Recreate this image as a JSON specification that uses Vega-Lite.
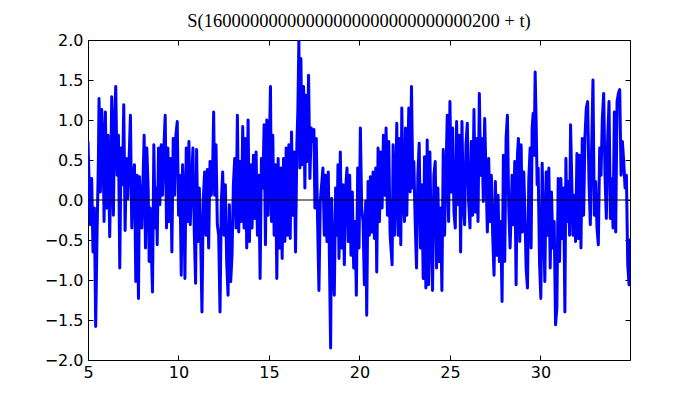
{
  "$schema": "https://vega.github.io/schema/vega-lite/v6.json",
  "width": 542,
  "height": 320,
  "autosize": {"type": "none"},
  "padding": {"left": 88, "top": 40, "right": 70, "bottom": 40},
  "background": "white",
  "title": {"text": "S(16000000000000000000000000000200 + t)", "font": "Liberation Serif", "fontSize": 18.5, "fontWeight": "normal", "color": "black", "baseline": "alphabetic", "offset": -13, "anchor": "middle"},
  "config": {
    "view": {"stroke": "black", "strokeWidth": 1},
    "axis": {"grid": false, "domain": false, "ticks": true, "tickColor": "black", "tickSize": -5, "tickWidth": 1, "labelFont": "DejaVu Sans", "labelFontSize": 16, "labelColor": "black", "labelFlush": false, "labelOverlap": false, "labelBound": false, "title": null}
  },
  "data": {"values": [
{"t":5.0,"s":0.73},{"t":5.129,"s":-0.31},{"t":5.203,"s":0.27},{"t":5.277,"s":-0.65},{"t":5.351,"s":-0.1},{"t":5.425,"s":-1.58},{"t":5.499,"s":-0.44},{"t":5.573,"s":0.48},{"t":5.61,"s":1.27},{"t":5.683,"s":0.1},{"t":5.757,"s":1.13},{"t":5.831,"s":0.69},{"t":5.887,"s":-0.27},{"t":5.961,"s":1.1},{"t":6.034,"s":-0.1},{"t":6.108,"s":0.81},{"t":6.2,"s":-0.46},{"t":6.256,"s":0.31},{"t":6.311,"s":1.29},{"t":6.404,"s":-0.19},{"t":6.459,"s":0.9},{"t":6.533,"s":1.42},{"t":6.607,"s":0.31},{"t":6.681,"s":0.81},{"t":6.755,"s":-0.85},{"t":6.828,"s":0.65},{"t":6.902,"s":0.19},{"t":6.976,"s":1.19},{"t":7.05,"s":-0.38},{"t":7.124,"s":0.52},{"t":7.198,"s":0.02},{"t":7.272,"s":0.52},{"t":7.345,"s":1.06},{"t":7.419,"s":-0.35},{"t":7.493,"s":0.31},{"t":7.567,"s":0.44},{"t":7.641,"s":-1.02},{"t":7.715,"s":0.31},{"t":7.789,"s":-1.23},{"t":7.844,"s":0.29},{"t":7.918,"s":-0.1},{"t":7.973,"s":-0.35},{"t":8.047,"s":0.31},{"t":8.103,"s":0.81},{"t":8.176,"s":-0.6},{"t":8.25,"s":0.65},{"t":8.324,"s":0.15},{"t":8.38,"s":-0.77},{"t":8.435,"s":-0.1},
{"t":8.564,"s":-1.15},{"t":8.638,"s":0.69},{"t":8.712,"s":-0.35},{"t":8.786,"s":0.15},{"t":8.823,"s":-0.56},{"t":8.897,"s":0.65},{"t":8.971,"s":-0.06},{"t":9.044,"s":0.69},{"t":9.118,"s":0.06},{"t":9.192,"s":0.65},{"t":9.266,"s":1.06},{"t":9.34,"s":-0.35},{"t":9.414,"s":0.65},{"t":9.488,"s":-0.27},{"t":9.561,"s":0.52},{"t":9.635,"s":-0.65},{"t":9.709,"s":0.77},{"t":9.783,"s":0.06},{"t":9.857,"s":0.81},{"t":9.931,"s":0.98},{"t":10.005,"s":-0.19},{"t":10.079,"s":0.31},{"t":10.152,"s":-0.94},{"t":10.226,"s":0.44},{"t":10.3,"s":-0.02},{"t":10.356,"s":-0.98},{"t":10.429,"s":0.65},{"t":10.503,"s":-0.27},{"t":10.577,"s":0.73},{"t":10.651,"s":-0.31},{"t":10.725,"s":0.23},{"t":10.799,"s":0.65},{"t":10.873,"s":-0.4},{"t":10.946,"s":-1.04},{"t":11.002,"s":0.63},{"t":11.076,"s":-0.52},{"t":11.15,"s":0.15},{"t":11.224,"s":-0.44},{"t":11.297,"s":-1.4},{"t":11.371,"s":0.02},{"t":11.445,"s":0.35},{"t":11.519,"s":-0.44},{"t":11.593,"s":0.38},{"t":11.667,"s":-0.6},{"t":11.741,"s":0.48},
{"t":11.814,"s":0.06},{"t":11.888,"s":0.4},{"t":11.944,"s":1.1},{"t":11.999,"s":0.06},{"t":12.073,"s":0.69},{"t":12.147,"s":-0.31},{"t":12.221,"s":-0.44},{"t":12.295,"s":-1.4},{"t":12.368,"s":-0.02},{"t":12.442,"s":0.35},{"t":12.516,"s":-0.44},{"t":12.59,"s":0.19},{"t":12.664,"s":-0.77},{"t":12.738,"s":-1.19},{"t":12.812,"s":-0.06},{"t":12.885,"s":-1.02},{"t":12.959,"s":-0.69},{"t":13.033,"s":0.19},{"t":13.107,"s":0.52},{"t":13.181,"s":-0.35},{"t":13.255,"s":1.06},{"t":13.329,"s":-0.4},{"t":13.403,"s":0.48},{"t":13.476,"s":-0.27},{"t":13.55,"s":0.92},{"t":13.624,"s":-0.35},{"t":13.698,"s":0.77},{"t":13.772,"s":-0.6},{"t":13.846,"s":1.0},{"t":13.92,"s":-0.52},{"t":13.993,"s":0.44},{"t":14.067,"s":-0.35},{"t":14.141,"s":0.56},{"t":14.215,"s":-0.23},{"t":14.289,"s":0.6},{"t":14.363,"s":-0.44},{"t":14.437,"s":0.31},{"t":14.51,"s":-0.98},{"t":14.584,"s":0.52},{"t":14.658,"s":0.15},{"t":14.732,"s":0.94},{"t":14.806,"s":-0.56},{"t":14.88,"s":1.0},{"t":14.954,"s":-0.19},
{"t":15.083,"s":1.42},{"t":15.138,"s":-0.27},{"t":15.212,"s":0.81},{"t":15.286,"s":-0.44},{"t":15.36,"s":0.44},{"t":15.434,"s":-0.98},{"t":15.508,"s":0.52},{"t":15.582,"s":-0.6},{"t":15.655,"s":0.4},{"t":15.729,"s":-0.73},{"t":15.803,"s":0.52},{"t":15.877,"s":-0.52},{"t":15.951,"s":0.65},{"t":16.025,"s":-0.44},{"t":16.099,"s":0.69},{"t":16.173,"s":-0.48},{"t":16.246,"s":0.85},{"t":16.32,"s":-0.19},{"t":16.394,"s":0.6},{"t":16.468,"s":-0.65},{"t":16.542,"s":0.69},{"t":16.597,"s":1.13},{"t":16.653,"s":1.99},{"t":16.708,"s":0.4},{"t":16.764,"s":1.77},{"t":16.837,"s":0.44},{"t":16.911,"s":1.42},{"t":16.985,"s":0.15},{"t":17.04,"s":1.31},{"t":17.114,"s":0.48},{"t":17.188,"s":1.56},{"t":17.262,"s":0.27},{"t":17.336,"s":0.9},{"t":17.41,"s":0.73},{"t":17.484,"s":0.88},{"t":17.539,"s":-0.1},{"t":17.613,"s":0.77},{"t":17.687,"s":-0.27},{"t":17.761,"s":-1.13},{"t":17.835,"s":-0.02},{"t":17.908,"s":0.19},{"t":17.982,"s":0.4},{"t":18.056,"s":-0.44},{"t":18.13,"s":0.31},{"t":18.204,"s":-0.52},{"t":18.278,"s":0.35},
{"t":18.407,"s":-1.85},{"t":18.462,"s":0.02},{"t":18.536,"s":-0.81},{"t":18.61,"s":-1.19},{"t":18.684,"s":0.15},{"t":18.758,"s":-0.44},{"t":18.813,"s":0.44},{"t":18.869,"s":-0.73},{"t":18.943,"s":0.6},{"t":19.016,"s":-0.6},{"t":19.09,"s":0.19},{"t":19.164,"s":-0.81},{"t":19.238,"s":0.15},{"t":19.312,"s":0.4},{"t":19.386,"s":-0.52},{"t":19.46,"s":0.31},{"t":19.533,"s":-0.69},{"t":19.607,"s":0.1},{"t":19.681,"s":-0.85},{"t":19.755,"s":-0.27},{"t":19.829,"s":-1.19},{"t":19.903,"s":0.4},{"t":19.977,"s":-0.6},{"t":20.051,"s":0.9},{"t":20.124,"s":-0.1},{"t":20.198,"s":-0.27},{"t":20.272,"s":-1.06},{"t":20.346,"s":-0.02},{"t":20.401,"s":-1.44},{"t":20.475,"s":0.23},{"t":20.549,"s":-0.44},{"t":20.605,"s":0.29},{"t":20.678,"s":-0.4},{"t":20.752,"s":0.35},{"t":20.826,"s":-0.48},{"t":20.9,"s":0.4},{"t":20.955,"s":-0.9},{"t":21.029,"s":0.65},{"t":21.103,"s":-0.27},{"t":21.177,"s":0.6},{"t":21.251,"s":-0.1},{"t":21.325,"s":0.81},{"t":21.399,"s":0.06},{"t":21.472,"s":0.9},{"t":21.546,"s":-0.19},{"t":21.62,"s":0.73},{"t":21.694,"s":-0.44},
{"t":21.805,"s":-0.81},{"t":21.86,"s":0.69},{"t":21.934,"s":-0.44},{"t":22.008,"s":0.19},{"t":22.063,"s":0.96},{"t":22.137,"s":-0.44},{"t":22.211,"s":0.77},{"t":22.285,"s":-0.56},{"t":22.34,"s":1.15},{"t":22.414,"s":0.06},{"t":22.488,"s":-0.27},{"t":22.544,"s":0.9},{"t":22.617,"s":-0.19},{"t":22.673,"s":0.56},{"t":22.728,"s":1.15},{"t":22.802,"s":0.1},{"t":22.876,"s":1.42},{"t":22.95,"s":0.15},{"t":23.005,"s":0.48},{"t":23.079,"s":-0.27},{"t":23.153,"s":-0.85},{"t":23.227,"s":0.31},{"t":23.301,"s":0.71},{"t":23.375,"s":-0.6},{"t":23.448,"s":0.19},{"t":23.522,"s":-0.98},{"t":23.596,"s":0.54},{"t":23.67,"s":-1.1},{"t":23.744,"s":0.75},{"t":23.818,"s":-1.06},{"t":23.892,"s":0.6},{"t":23.965,"s":-0.44},{"t":24.039,"s":-1.13},{"t":24.113,"s":0.31},{"t":24.187,"s":0.48},{"t":24.261,"s":-0.85},{"t":24.335,"s":0.15},{"t":24.409,"s":-0.77},{"t":24.482,"s":-0.1},{"t":24.556,"s":-1.13},{"t":24.63,"s":0.63},{"t":24.704,"s":-0.44},{"t":24.778,"s":0.31},{"t":24.852,"s":1.06},{"t":24.926,"s":-0.27},{"t":25.0,"s":1.23},
{"t":25.073,"s":0.1},{"t":25.147,"s":0.9},{"t":25.221,"s":-0.15},{"t":25.295,"s":-0.35},{"t":25.369,"s":0.98},{"t":25.443,"s":-0.06},{"t":25.517,"s":0.81},{"t":25.591,"s":-0.65},{"t":25.664,"s":0.98},{"t":25.738,"s":-0.02},{"t":25.812,"s":-0.31},{"t":25.886,"s":0.69},{"t":25.96,"s":0.96},{"t":26.034,"s":-0.02},{"t":26.108,"s":-0.35},{"t":26.181,"s":0.73},{"t":26.255,"s":-0.19},{"t":26.329,"s":1.13},{"t":26.403,"s":-0.15},{"t":26.477,"s":0.77},{"t":26.551,"s":-0.27},{"t":26.625,"s":1.33},{"t":26.699,"s":0.31},{"t":26.772,"s":0.77},{"t":26.846,"s":-0.02},{"t":26.92,"s":1.02},{"t":26.994,"s":0.31},{"t":27.068,"s":-0.4},{"t":27.142,"s":0.52},{"t":27.216,"s":-0.27},{"t":27.289,"s":0.31},{"t":27.363,"s":-0.44},{"t":27.437,"s":-0.94},{"t":27.511,"s":0.23},{"t":27.585,"s":-0.69},{"t":27.659,"s":0.06},{"t":27.733,"s":-0.77},{"t":27.807,"s":-0.27},{"t":27.88,"s":-1.27},{"t":27.954,"s":0.56},{"t":28.028,"s":-0.77},{"t":28.102,"s":0.77},{"t":28.176,"s":1.06},{"t":28.25,"s":-0.1},{"t":28.324,"s":-0.6},
{"t":28.379,"s":-0.19},{"t":28.434,"s":0.31},{"t":28.508,"s":-0.31},{"t":28.582,"s":0.48},{"t":28.656,"s":-1.06},{"t":28.73,"s":0.56},{"t":28.785,"s":0.77},{"t":28.859,"s":-0.52},{"t":28.933,"s":0.69},{"t":29.007,"s":-0.4},{"t":29.081,"s":0.35},{"t":29.155,"s":-0.27},{"t":29.21,"s":-0.85},{"t":29.284,"s":-1.1},{"t":29.358,"s":0.27},{"t":29.432,"s":0.65},{"t":29.487,"s":-0.6},{"t":29.542,"s":0.9},{"t":29.598,"s":1.08},{"t":29.653,"s":0.56},{"t":29.709,"s":1.6},{"t":29.764,"s":0.98},{"t":29.819,"s":0.19},{"t":29.875,"s":0.4},{"t":29.949,"s":-0.77},{"t":30.023,"s":-1.23},{"t":30.096,"s":0.46},{"t":30.17,"s":-0.27},{"t":30.244,"s":-1.02},{"t":30.318,"s":0.35},{"t":30.392,"s":-0.44},{"t":30.466,"s":0.4},{"t":30.54,"s":-0.85},{"t":30.613,"s":0.1},{"t":30.687,"s":-0.6},{"t":30.761,"s":-0.27},{"t":30.835,"s":-1.56},{"t":30.909,"s":-1.35},{"t":30.983,"s":0.27},{"t":31.057,"s":-0.77},{"t":31.13,"s":0.27},{"t":31.204,"s":-0.48},{"t":31.278,"s":0.15},{"t":31.352,"s":-1.4},{"t":31.408,"s":0.52},{"t":31.463,"s":-0.27},{"t":31.537,"s":0.23},{"t":31.611,"s":-0.44},{"t":31.666,"s":0.94},
{"t":31.796,"s":-0.44},{"t":31.87,"s":0.06},{"t":31.944,"s":-0.52},{"t":32.018,"s":0.58},{"t":32.092,"s":-0.48},{"t":32.166,"s":0.56},{"t":32.24,"s":-0.6},{"t":32.313,"s":0.77},{"t":32.387,"s":-0.19},{"t":32.461,"s":0.79},{"t":32.535,"s":1.15},{"t":32.609,"s":1.23},{"t":32.683,"s":0.23},{"t":32.757,"s":-0.31},{"t":32.83,"s":0.65},{"t":32.904,"s":1.5},{"t":32.978,"s":-0.19},{"t":33.052,"s":0.23},{"t":33.126,"s":-0.35},{"t":33.2,"s":-0.56},{"t":33.274,"s":0.65},{"t":33.348,"s":0.31},{"t":33.421,"s":1.02},{"t":33.495,"s":1.33},{"t":33.569,"s":0.31},{"t":33.643,"s":-0.23},{"t":33.717,"s":0.77},{"t":33.791,"s":1.23},{"t":33.865,"s":-0.23},{"t":33.938,"s":0.27},{"t":34.012,"s":-0.35},{"t":34.086,"s":1.1},{"t":34.16,"s":-0.4},{"t":34.234,"s":1.23},{"t":34.308,"s":1.33},{"t":34.382,"s":1.38},{"t":34.456,"s":0.31},{"t":34.529,"s":0.73},{"t":34.603,"s":0.48},{"t":34.677,"s":0.15},{"t":34.751,"s":0.31},{"t":34.825,"s":-0.81},{"t":34.899,"s":-1.06},{"t":34.93,"s":-0.5},{"t":34.95,"s":-1.0}
  ]},
  "layer": [
    {
      "mark": {"type": "line", "color": "#0000ff", "strokeWidth": 3, "clip": true, "strokeJoin": "round"},
      "encoding": {
        "x": {"field": "t", "type": "quantitative", "scale": {"domain": [5, 34.95], "nice": false, "zero": false},
              "axis": {"orient": "bottom", "values": [5, 10, 15, 20, 25, 30], "format": "d", "labelPadding": 9}},
        "y": {"field": "s", "type": "quantitative", "scale": {"domain": [-2, 2], "nice": false, "zero": false},
              "axis": {"orient": "left", "values": [-2, -1.5, -1, -0.5, 0, 0.5, 1, 1.5, 2], "format": ".1f", "labelPadding": 10}}
      }
    },
    {
      "mark": {"type": "line", "opacity": 0},
      "encoding": {
        "x": {"field": "t", "type": "quantitative", "axis": {"orient": "top", "values": [5, 10, 15, 20, 25, 30], "labels": false}},
        "y": {"field": "s", "type": "quantitative", "axis": {"orient": "right", "values": [-2, -1.5, -1, -0.5, 0, 0.5, 1, 1.5, 2], "labels": false}}
      }
    },
    {
      "data": {"values": [{"zero": 0}]},
      "mark": {"type": "rule", "color": "black", "strokeWidth": 1},
      "encoding": {"y": {"field": "zero", "type": "quantitative", "axis": null}}
    }
  ],
  "resolve": {"axis": {"x": "independent", "y": "independent"}}
}
